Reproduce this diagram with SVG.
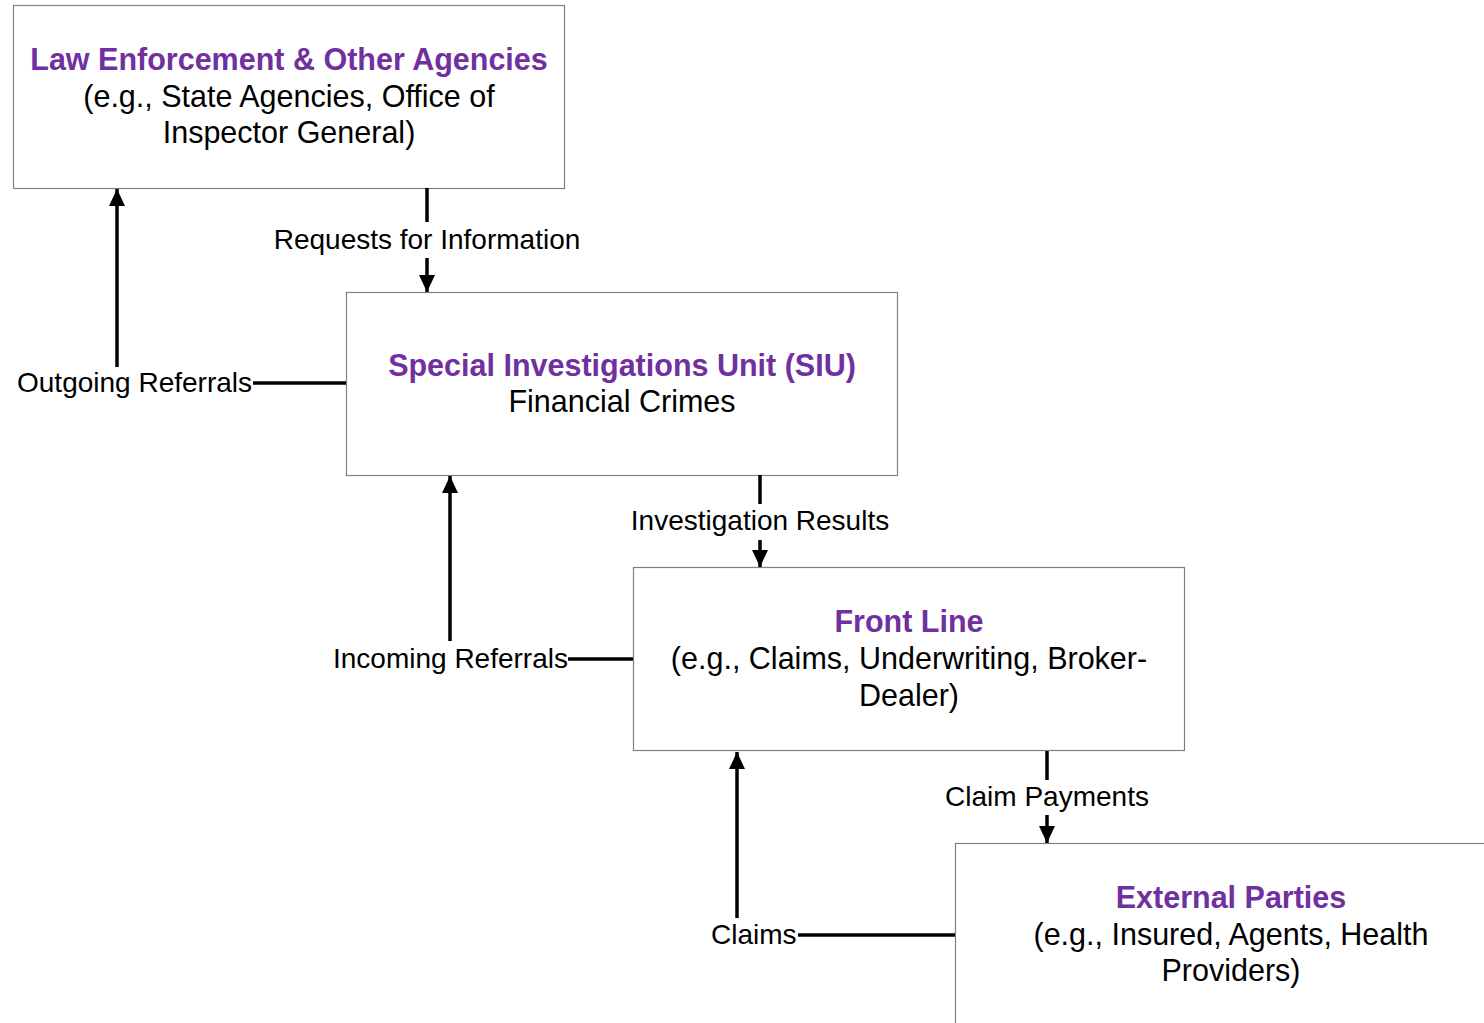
<svg xmlns="http://www.w3.org/2000/svg" width="1484" height="1023" viewBox="0 0 1484 1023">
<style>
.box{fill:#fff;stroke:#808080;stroke-width:1.2}
.t{font-family:"Liberation Sans",Arial,sans-serif;font-size:30.5px;fill:#000;text-anchor:middle}
.h{font-weight:bold;fill:#7030A0}
.lbl{font-family:"Liberation Sans",Arial,sans-serif;font-size:28px;fill:#000}
.c{stroke:#000;stroke-width:3.5;fill:none}
</style>
<defs>
<marker id="ah" markerUnits="userSpaceOnUse" markerWidth="17" markerHeight="18" refX="17" refY="8" orient="auto">
<path d="M0,0 L17,8 L0,16 Z" fill="#000"/>
</marker>
</defs>
<rect width="1484" height="1023" fill="#fff"/>
<g id="law-enforcement">
<rect class="box" x="13.5" y="5.5" width="551" height="183"/>
<text class="t h" x="289" y="70">Law Enforcement &amp; Other Agencies</text>
<text class="t" x="289" y="107">(e.g., State Agencies, Office of</text>
<text class="t" x="289" y="143">Inspector General)</text>
</g>
<g id="siu">
<rect class="box" x="346.5" y="292.5" width="551" height="183"/>
<text class="t h" x="622" y="376">Special Investigations Unit (SIU)</text>
<text class="t" x="622" y="412">Financial Crimes</text>
</g>
<g id="front-line">
<rect class="box" x="633.5" y="567.5" width="551" height="183"/>
<text class="t h" x="909" y="632">Front Line</text>
<text class="t" x="909" y="669">(e.g., Claims, Underwriting, Broker-</text>
<text class="t" x="909" y="706">Dealer)</text>
</g>
<g id="external-parties">
<rect class="box" x="955.5" y="843.5" width="551" height="183"/>
<text class="t h" x="1231" y="908">External Parties</text>
<text class="t" x="1231" y="945">(e.g., Insured, Agents, Health</text>
<text class="t" x="1231" y="981">Providers)</text>
</g>
<g id="connectors">
<line class="c" x1="427" y1="188" x2="427" y2="222"/>
<line class="c" x1="427" y1="258" x2="427" y2="292" marker-end="url(#ah)"/>
<text class="lbl" x="427" y="249" text-anchor="middle">Requests for Information</text>
<line class="c" x1="346" y1="383" x2="253" y2="383"/>
<line class="c" x1="117" y1="367" x2="117" y2="189" marker-end="url(#ah)"/>
<text class="lbl" x="17" y="392">Outgoing Referrals</text>
<line class="c" x1="760" y1="475" x2="760" y2="504"/>
<line class="c" x1="760" y1="540" x2="760" y2="567" marker-end="url(#ah)"/>
<text class="lbl" x="760" y="530" text-anchor="middle">Investigation Results</text>
<line class="c" x1="633" y1="659" x2="568" y2="659"/>
<line class="c" x1="450" y1="641" x2="450" y2="476" marker-end="url(#ah)"/>
<text class="lbl" x="333" y="668">Incoming Referrals</text>
<line class="c" x1="1047" y1="751" x2="1047" y2="780"/>
<line class="c" x1="1047" y1="815" x2="1047" y2="843" marker-end="url(#ah)"/>
<text class="lbl" x="1047" y="806" text-anchor="middle">Claim Payments</text>
<line class="c" x1="955" y1="935" x2="798" y2="935"/>
<line class="c" x1="737" y1="918" x2="737" y2="752" marker-end="url(#ah)"/>
<text class="lbl" x="711" y="944">Claims</text>
</g>
</svg>
